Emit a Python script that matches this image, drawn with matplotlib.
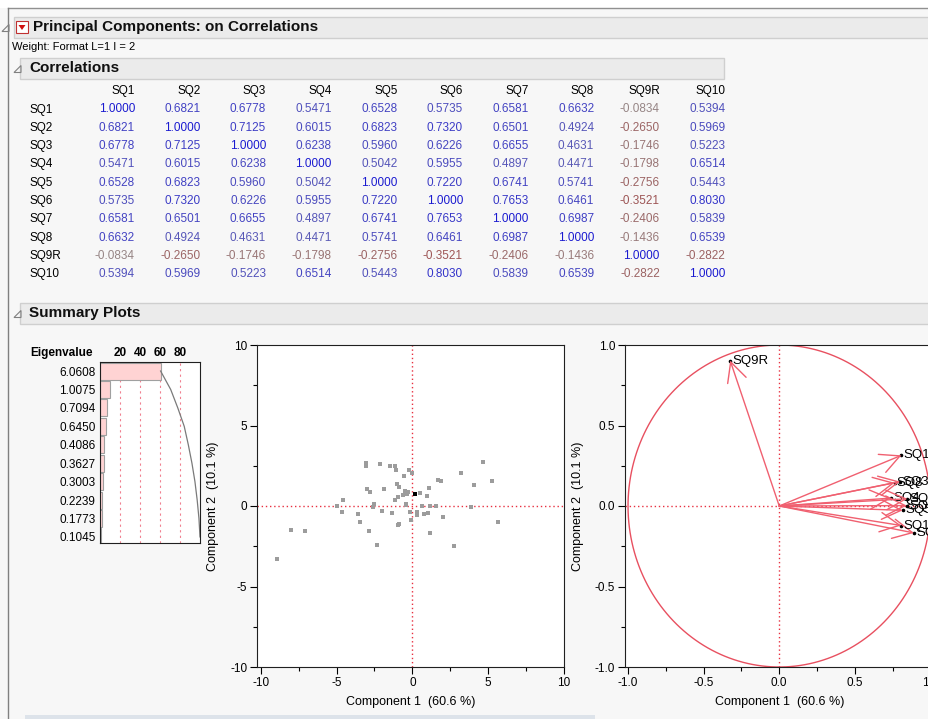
import numpy as np
import matplotlib.pyplot as plt
from matplotlib.patches import Rectangle, Polygon

plt.rcParams['font.family'] = ['Liberation Sans', 'DejaVu Sans']

W, H = 929, 719

# Correlation table
variables = ['SQ1', 'SQ2', 'SQ3', 'SQ4', 'SQ5', 'SQ6', 'SQ7', 'SQ8', 'SQ9R', 'SQ10']
corr = np.array([
    [1.0000, 0.6821, 0.6778, 0.5471, 0.6528, 0.5735, 0.6581, 0.6632, -0.0834, 0.5394],
    [0.6821, 1.0000, 0.7125, 0.6015, 0.6823, 0.7320, 0.6501, 0.4924, -0.2650, 0.5969],
    [0.6778, 0.7125, 1.0000, 0.6238, 0.5960, 0.6226, 0.6655, 0.4631, -0.1746, 0.5223],
    [0.5471, 0.6015, 0.6238, 1.0000, 0.5042, 0.5955, 0.4897, 0.4471, -0.1798, 0.6514],
    [0.6528, 0.6823, 0.5960, 0.5042, 1.0000, 0.7220, 0.6741, 0.5741, -0.2756, 0.5443],
    [0.5735, 0.7320, 0.6226, 0.5955, 0.7220, 1.0000, 0.7653, 0.6461, -0.3521, 0.8030],
    [0.6581, 0.6501, 0.6655, 0.4897, 0.6741, 0.7653, 1.0000, 0.6987, -0.2406, 0.5839],
    [0.6632, 0.4924, 0.4631, 0.4471, 0.5741, 0.6461, 0.6987, 1.0000, -0.1436, 0.6539],
    [-0.0834, -0.2650, -0.1746, -0.1798, -0.2756, -0.3521, -0.2406, -0.1436, 1.0000, -0.2822],
    [0.5394, 0.5969, 0.5223, 0.6514, 0.5443, 0.8030, 0.5839, 0.6539, -0.2822, 1.0000],
])

# Eigenvalues and percent of variance
eigenvalues = [6.0608, 1.0075, 0.7094, 0.6450, 0.4086, 0.3627, 0.3003, 0.2239, 0.1773, 0.1045]
percent = [60.608, 10.075, 7.094, 6.450, 4.086, 3.627, 3.003, 2.239, 1.773, 1.045]
cum_percent = [60.608, 70.683, 77.777, 84.227, 88.313, 91.940, 94.943, 97.182, 98.955, 100.0]

# Score plot (Component 1 vs Component 2)
score_x = [-3.03, -3.03, -2.15, -1.45, -1.12, -1.10, -0.22, -0.04, -0.57, -2.97,
           -2.81, -1.85, -0.99, -0.90, -1.14, -0.92, -0.62, -0.46, -0.37, -0.26,
           0.48, 0.97, 1.08, 1.69, 1.87, 3.23, 4.68, 5.23, 4.04, 3.89,
           5.63, 2.02, 2.77, 1.14, 1.03, 0.75, 1.14, 0.66, 1.54, 0.31,
           0.31, -0.15, -0.09, -0.44, -0.40, -1.32, -0.86, -0.97, -1.98, -2.50,
           -2.57, -3.56, -3.43, -4.57, -4.64, -4.97, -2.88, -2.31, -7.98, -7.10,
           -8.92]
score_y = [2.67, 2.46, 2.62, 2.46, 2.50, 2.25, 2.21, 2.05, 1.84, 1.07,
           0.85, 1.07, 1.36, 1.18, 0.35, 0.54, 0.70, 0.91, 0.76, 0.85,
           0.80, 0.64, 1.10, 1.63, 1.53, 2.02, 2.75, 1.55, 1.28, -0.08,
           -1.01, -0.70, -2.50, -1.67, -0.43, -0.48, -0.02, 0.02, 0.02, -0.35,
           -0.56, -0.35, -0.89, 0.12, 0.04, -0.43, -1.10, -1.20, -0.29, 0.14,
           -0.08, -0.50, -0.97, 0.35, -0.37, -0.02, -1.55, -2.44, -1.49, -1.55,
           -3.29]
selected_x = [0.18]
selected_y = [0.76]

# Loadings (Component 1, Component 2)
load_x = [0.8080, 0.8431, 0.7991, 0.7369, 0.8163, 0.8910, 0.8470, 0.7629, -0.3245, 0.8065]
load_y = [0.3149, 0.0025, 0.1519, 0.0490, -0.0270, -0.1673, 0.0449, 0.1443, 0.9037, -0.1212]


def fx(x):
    return x / W


def fy(y):
    return 1 - y / H


def header_bar(x0, y0, x1, y1, label, tri_x):
    fig.add_artist(Rectangle((fx(x0), fy(y1)), (x1 - x0) / W, (y1 - y0) / H,
                             transform=fig.transFigure, facecolor='#ebebeb',
                             edgecolor='#cfcfcf', lw=1))
    cy = (y0 + y1) / 2
    tri = [(fx(tri_x), fy(cy + 4)), (fx(tri_x + 7), fy(cy + 4)), (fx(tri_x + 7), fy(cy - 3))]
    fig.add_artist(Polygon(tri, closed=True, transform=fig.transFigure,
                           facecolor='none', edgecolor='#808080', lw=0.8))
    return fig.text(fx(x0 + 9), fy(cy), label, fontsize=11, fontweight='bold',
                    va='center', ha='left', color='#101010')


def value_color(v):
    if v >= 0.999:
        return '#1a1ad0'
    if v >= 0:
        t = min(v / 0.85, 1.0)
        g = np.array([0.55, 0.55, 0.62])
        b = np.array([0.18, 0.18, 0.80])
        return tuple(g + (b - g) * t)
    t = min(-v / 0.4, 1.0)
    g = np.array([0.58, 0.58, 0.58])
    r = np.array([0.62, 0.30, 0.30])
    return tuple(g + (r - g) * t)


fig = plt.figure(figsize=(W / 100, H / 100), dpi=100, facecolor='#f7f7f7')

# window frame
fig.add_artist(Rectangle((0, fy(8)), 1, 8 / H, transform=fig.transFigure,
                         facecolor='white', edgecolor='none'))
fig.add_artist(plt.Line2D([fx(8), 1], [fy(8), fy(8)], color='#909090', lw=1))
fig.add_artist(plt.Line2D([fx(8), fx(8)], [fy(8), 0], color='#808080', lw=1))
fig.add_artist(Rectangle((fx(25), 0), 570 / W, 4 / H, transform=fig.transFigure,
                         facecolor='#dde3ea', edgecolor='none'))

# main header
title = header_bar(14, 17, 940, 38, 'Principal Components: on Correlations', 2)
title.set_position((fx(33), fy(27.5)))
fig.add_artist(Rectangle((fx(16), fy(33)), 12 / W, 12 / H, transform=fig.transFigure,
                         facecolor='white', edgecolor='#c03030', lw=0.8))
fig.add_artist(Polygon([(fx(18.5), fy(25)), (fx(25.5), fy(25)), (fx(22), fy(30))],
                       closed=True, transform=fig.transFigure, facecolor='#d01010',
                       edgecolor='none'))
fig.text(fx(12), fy(46.5), 'Weight: Format L=1 I = 2', fontsize=8, va='center', ha='left')

# correlations
header_bar(20, 58, 724, 79, 'Correlations', 14)
col_right = [135 + 65.6 * j for j in range(10)]
row_y = [109.5 + 18.3 * i for i in range(10)]
for j, name in enumerate(variables):
    fig.text(fx(col_right[j]), fy(91), name, fontsize=8.5, ha='right', va='center')
for i, name in enumerate(variables):
    fig.text(fx(30), fy(row_y[i]), name, fontsize=8.5, ha='left', va='center')
    for j in range(10):
        v = corr[i, j]
        fig.text(fx(col_right[j]), fy(row_y[i]), '%.4f' % v, fontsize=8.5,
                 ha='right', va='center', color=value_color(v))

# summary plots
header_bar(20, 303, 940, 324, 'Summary Plots', 14)

# eigenvalue bars
ax_e = fig.add_axes([fx(100), fy(543), 100 / W, 181 / H])
ax_e.set_facecolor('white')
for v in [20, 40, 60, 80]:
    ax_e.axvline(v, color='#f08090', ls=(0, (2, 3)), lw=0.8, zorder=0)
ax_e.barh(range(10), percent, height=0.92, color='#ffd3d3', edgecolor='#a0a0a0', lw=0.8)
ax_e.plot(cum_percent, range(10), color='#7a7a7a', lw=0.9)
ax_e.set_xlim(0, 100)
ax_e.set_ylim(9.33, -0.49)
ax_e.xaxis.tick_top()
ax_e.set_xticks([20, 40, 60, 80])
ax_e.set_xticklabels(['20', '40', '60', '80'], fontweight='bold', fontsize=8.5)
ax_e.set_yticks(range(10))
ax_e.set_yticklabels(['%.4f' % e for e in eigenvalues], fontsize=8.5)
ax_e.tick_params(length=0, pad=3)
ax_e.tick_params(axis='x', pad=2)
for s in ax_e.spines.values():
    s.set_color('#202020')
fig.text(fx(30), fy(353), 'Eigenvalue', fontsize=8.5, fontweight='bold', va='center', ha='left')

red_dot = dict(color='#e83040', ls=(0, (1, 2)), lw=1)


def style_axes(ax, major, minor, fmt):
    ax.set_facecolor('white')
    ax.set_xticks(major)
    ax.set_xticks(minor, minor=True)
    ax.set_yticks(major)
    ax.set_yticks(minor, minor=True)
    ax.set_xticklabels([fmt % v for v in major], fontsize=8.5)
    ax.set_yticklabels([fmt % v for v in major], fontsize=8.5)
    ax.tick_params(which='major', length=5, width=0.8, direction='out', pad=2)
    ax.tick_params(which='minor', length=3, width=0.8, direction='out')
    for s in ax.spines.values():
        s.set_color('#202020')
    ax.set_xlabel('Component 1  (60.6 %)', fontsize=9, labelpad=5)
    ax.set_ylabel('Component 2  (10.1 %)', fontsize=9, labelpad=8)


# score plot
ax_s = fig.add_axes([fx(257), fy(667), 307 / W, 322 / H])
ax_s.axvline(0, **red_dot, zorder=1)
ax_s.axhline(0, **red_dot, zorder=1)
ax_s.scatter(score_x, score_y, marker='s', s=5, color='#9c9c9c', lw=0, zorder=2)
ax_s.scatter(selected_x, selected_y, marker='s', s=5, color='black', lw=0, zorder=3)
ax_s.set_xlim(-10.25, 10)
ax_s.set_ylim(-10, 10)
style_axes(ax_s, [-10, -5, 0, 5, 10], [-7.5, -2.5, 2.5, 7.5], '%d')

# loading plot
ax_l = fig.add_axes([fx(625), fy(667), 310 / W, 322 / H])
ax_l.axvline(0, **red_dot, zorder=1)
ax_l.axhline(0, **red_dot, zorder=1)
t = np.linspace(0, 2 * np.pi, 400)
ax_l.plot(np.cos(t), np.sin(t), color='#e85060', lw=1)
for name, lx, ly in zip(variables, load_x, load_y):
    ax_l.annotate('', xy=(lx, ly), xytext=(0, 0),
                  arrowprops=dict(arrowstyle='->,head_length=1.0,head_width=0.5',
                                  color='#f06070', lw=1, mutation_scale=14,
                                  shrinkA=0, shrinkB=0))
    ax_l.plot(lx, ly, 'o', ms=1.6, color='black')
    ax_l.text(lx + 0.015, ly, name, fontsize=9.5, va='center', ha='left')
ax_l.set_xlim(-1.02, 1.03)
ax_l.set_ylim(-1, 1)
style_axes(ax_l, [-1.0, -0.5, 0.0, 0.5, 1.0], [-0.75, -0.25, 0.25, 0.75], '%.1f')

fig.savefig('out.png', dpi=100, facecolor=fig.get_facecolor())
